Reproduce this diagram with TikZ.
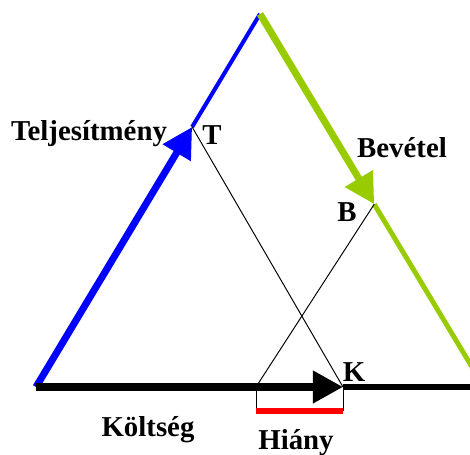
\documentclass[tikz,border=0pt]{standalone}
\usepackage{fontspec}
\setmainfont{Liberation Serif}
\usepackage{tikz}
\usetikzlibrary{arrows.meta, calc}
\definecolor{sideblue}{RGB}{0,0,255}
\definecolor{sidegreen}{RGB}{153,204,0}
\definecolor{gapred}{RGB}{255,0,0}
\tikzset{
  lbl/.style={font=\fontsize{16.4}{18}\selectfont\bfseries, inner sep=0pt},
  heavy/.style={line width=4pt},
  light/.style={line width=2.3pt},
  bigtip/.style={-{Triangle[length=0.6cm, width=0.62cm]}},
  guide/.style={line width=0.55pt, color=black}
}

\begin{document}
\begin{tikzpicture}
  \useasboundingbox (0,0) rectangle (9.4,9.1);
  \clip (0,0) rectangle (9.4,9.1);

  % corners of the triangle and the points on its sides
  \coordinate (A) at (0.72, 1.36);
  \coordinate (top) at (5.20, 8.82);
  \coordinate (C) at (9.68, 1.36);
  \coordinate (T) at ($(A)!0.697!(top)$);
  \coordinate (B) at ($(top)!0.51!(C)$);
  \coordinate (K) at (6.86, 1.36);
  \coordinate (H) at (5.12, 1.36);
  \coordinate (Hd) at (5.12, 0.88);
  \coordinate (Kd) at (6.86, 0.88);

  % sides
  \draw[light, color=sideblue] (T) -- (top);
  \draw[light, color=sidegreen, line width=2.8pt] (B) -- (C);
  \draw[line width=3.2pt] (K) -- (C);
  \draw[heavy, bigtip, color=sideblue] (A) -- (T);
  \draw[heavy, bigtip, color=sidegreen] (top) -- (B);
  \draw[heavy, bigtip, color=black] (A) -- (K);

  % inner lines
  \draw[guide] (T) -- (K);
  \draw[guide] (B) -- (H);
  \draw[guide] (H) -- (Hd);
  \draw[guide] (K) -- (Kd);
  \draw[line width=3pt, color=gapred] (Hd) -- (Kd);

  % labels
  \node[lbl] (telj) at (1.78, 6.42) {Teljesítmény};
  \node[lbl] (tlbl) at (4.24, 6.40) {T};
  \node[lbl] (bev) at (8.04, 6.14) {Bevétel};
  \node[lbl] (blbl) at (6.94, 4.86) {B};
  \node[lbl] (klbl) at (7.08, 1.66) {K};
  \node[lbl] (kolt) at (2.96, 0.50) {Költség};
  \node[lbl] (hiany) at (5.92, 0.24) {Hiány};
\end{tikzpicture}
\end{document}
